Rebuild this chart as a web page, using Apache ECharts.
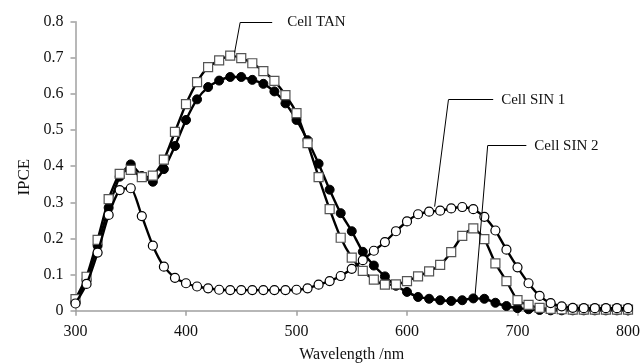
<!DOCTYPE html>
<html>
<head>
<meta charset="utf-8">
<script src="https://cdn.jsdelivr.net/npm/echarts@6/dist/echarts.min.js"></script>
<style>html,body{margin:0;padding:0;background:#fff}#c{width:643px;height:363px}</style>
</head>
<body>
<div id="c"></div>
<script>
const wavelengths = [300,310,320,330,340,350,360,370,380,390,400,410,420,430,440,450,460,470,480,490,500,510,520,530,540,550,560,570,580,590,600,610,620,630,640,650,660,670,680,690,700,710,720,730,740,750,760,770,780,790,800];

const cellSIN2 = [0.025,0.085,0.18,0.285,0.371,0.405,0.373,0.357,0.392,0.456,0.528,0.585,0.619,0.637,0.647,0.647,0.639,0.628,0.607,0.574,0.528,0.472,0.407,0.335,0.27,0.22,0.163,0.125,0.095,0.069,0.052,0.038,0.033,0.029,0.027,0.029,0.034,0.033,0.022,0.013,0.007,0.004,0.002,0.001,0.001,0.001,0.001,0.001,0.001,0.001,0.001];

const cellTAN = [0.032,0.094,0.196,0.309,0.379,0.39,0.37,0.374,0.418,0.495,0.572,0.633,0.674,0.693,0.706,0.699,0.685,0.663,0.636,0.597,0.547,0.464,0.37,0.281,0.202,0.147,0.11,0.086,0.072,0.073,0.082,0.095,0.109,0.127,0.162,0.207,0.228,0.198,0.131,0.082,0.029,0.016,0.008,0.005,0.004,0.003,0.003,0.003,0.003,0.003,0.003];

const cellSIN1 = [0.02,0.074,0.161,0.265,0.334,0.339,0.262,0.18,0.122,0.091,0.076,0.067,0.062,0.058,0.057,0.057,0.057,0.057,0.057,0.057,0.058,0.062,0.072,0.082,0.096,0.116,0.14,0.166,0.19,0.22,0.247,0.267,0.274,0.277,0.283,0.287,0.281,0.26,0.222,0.169,0.12,0.076,0.041,0.021,0.012,0.008,0.007,0.007,0.007,0.007,0.007];

const yTicks = [0,0.1,0.2,0.3,0.4,0.5,0.6,0.7,0.8];
const xTicks = [300,400,500,600,700,800];

// annotation leader lines: [point on curve, elbow, end of horizontal]
const annTAN  = [[444,0.715],[449,0.798],[478,0.798]];
const annSIN1 = [[625,0.288],[637.5,0.584],[678,0.584]];
const annSIN2 = [[661.5,0.039],[673,0.457],[708,0.457]];

const FONT = '"Liberation Serif", "Times New Roman", serif';

function pairs(ys){ return wavelengths.map((x,i)=>[x, ys[i]]); }

function leader(ann, text, dist){
  return {
    silent: true,
    symbol: 'none',
    animation: false,
    lineStyle: {color:'#000', width:1, type:'solid'},
    emphasis: {disabled:true},
    data: [
      [{coord: ann[0], label:{show:false}}, {coord: ann[1]}],
      [{coord: ann[1], label:{show:true, position:'end', formatter:text, distance:dist, color:'#111', fontFamily:FONT, fontSize:15, padding:[3,0,0,0]}}, {coord: ann[2]}]
    ],
    label: {show:false}
  };
}

const chart = echarts.init(document.getElementById('c'));
chart.setOption({
  animation: false,
  backgroundColor: '#fff',
  grid: {left: 75.5, right: 15, top: 21.7, bottom: 52.3, containLabel: false, outerBoundsMode: 'none'},
  xAxis: {
    type: 'value', min: 300, max: 800, interval: 100,
    name: 'Wavelength /nm', nameLocation: 'middle', nameGap: 36,
    nameTextStyle: {fontFamily: FONT, fontSize: 16, color: '#111'},
    axisLine: {lineStyle: {color: '#a0a0a0', width: 1.5}},
    axisTick: {show: true, inside: false, length: 5, lineStyle: {color: '#a0a0a0', width: 1.5}},
    axisLabel: {fontFamily: FONT, fontSize: 16, color: '#111', margin: 13},
    splitLine: {show: false}
  },
  yAxis: {
    type: 'value', min: 0, max: 0.8, interval: 0.1,
    name: 'IPCE', nameLocation: 'middle', nameGap: 42,
    nameTextStyle: {fontFamily: FONT, fontSize: 17, color: '#111', padding:[0,0,0,-22]},
    axisLine: {show: true, lineStyle: {color: '#a0a0a0', width: 1.5}},
    axisTick: {show: true, inside: false, length: 5, lineStyle: {color: '#a0a0a0', width: 1.5}},
    axisLabel: {fontFamily: FONT, fontSize: 16, color: '#111', margin: 12},
    splitLine: {show: false}
  },
  series: [
    {
      name: 'Cell SIN 2', type: 'line', data: pairs(cellSIN2),
      symbol: 'circle', symbolSize: 9, smooth: 0.2,
      lineStyle: {color: '#000', width: 2.4},
      itemStyle: {color: '#000', borderColor: '#000', borderWidth: 1},
      markLine: leader(annSIN2, 'Cell SIN 2', 8),
      z: 2
    },
    {
      name: 'Cell TAN', type: 'line', data: pairs(cellTAN),
      symbol: 'rect', symbolSize: 9, smooth: 0.2,
      lineStyle: {color: '#000', width: 2.4},
      itemStyle: {color: '#fff', borderColor: '#555', borderWidth: 1.2},
      markLine: leader(annTAN, 'Cell TAN', 15),
      z: 3
    },
    {
      name: 'Cell SIN 1', type: 'line', data: pairs(cellSIN1),
      symbol: 'circle', symbolSize: 9, smooth: 0.2,
      lineStyle: {color: '#000', width: 2.4},
      itemStyle: {color: '#fff', borderColor: '#000', borderWidth: 1.2},
      markLine: leader(annSIN1, 'Cell SIN 1', 8),
      z: 4
    }
  ]
});
</script>
</body>
</html>
